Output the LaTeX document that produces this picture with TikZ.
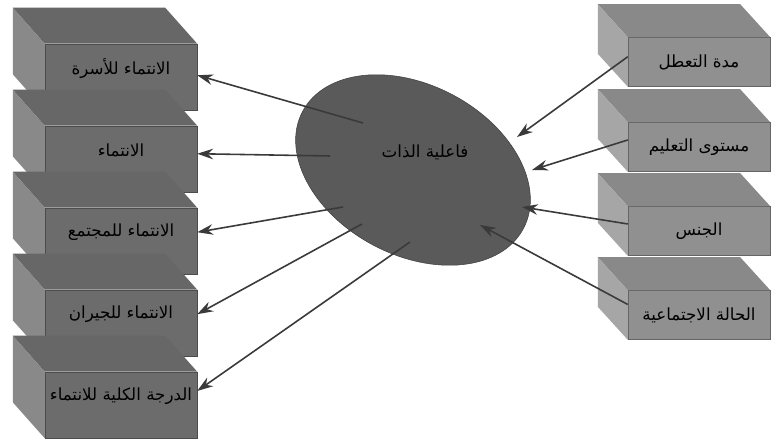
\documentclass[tikz,border=0pt]{standalone}
\usepackage{fontspec}
\newfontfamily\arabicfont[Script=Arabic]{DejaVu Sans}
\TeXXeTstate=1
\usetikzlibrary{arrows.meta,shapes.geometric,calc}
\definecolor{leftgray}{HTML}{6C6C6C}
\definecolor{rightgray}{HTML}{909090}
\definecolor{blobgray}{HTML}{5A5A5A}
\definecolor{linegray}{HTML}{3A3A3A}
\newcommand\artext[1]{\arabicfont\beginR #1\endR}

\begin{document}
\begin{tikzpicture}[
  x=0.02cm, y=-0.02cm,
  >=Stealth,
  leftfront/.style={fill=leftgray, draw=leftgray!70!black, line width=0.3pt, minimum width=3.04cm, minimum height=1.32cm, inner sep=0pt},
  rightfront/.style={fill=rightgray, draw=rightgray!70!black, line width=0.3pt, minimum width=2.84cm, minimum height=0.98cm, inner sep=0pt},
  boxtext/.style={font=\fontsize{9.5}{11}\selectfont, text=black, inner sep=1pt},
  blob/.style={ellipse, fill=blobgray, draw=blobgray!70!black, line width=0.3pt, minimum width=5cm, minimum height=3.4cm, rotate=-28},
  link/.style={draw=linegray, line width=0.9pt, -{Stealth[length=9pt,width=6pt]}}
]
\useasboundingbox[fill=white] (0,0) rectangle (774,439);

% left boxes
\foreach \name/\cy/\txt in {lb1/77/{الانتماء للأسرة}, lb2/159/{الانتماء}, lb3/241/{الانتماء للمجتمع}, lb4/323/{الانتماء للجيران}, lb5/405/{الدرجة الكلية للانتماء}} {
  \node[leftfront] (\name) at (121,\cy) {};
  \fill[leftgray!95!black] (\name.north west) -- (\name.north east) -- ++(-32,-36) -- ([shift={(-32,-36)}]\name.north west) -- cycle;
  \fill[leftgray!80!white] (\name.north west) -- (\name.south west) -- ++(-32,-36) -- ([shift={(-32,-36)}]\name.north west) -- cycle;
  \node[boxtext] (\name t) at ([yshift=5pt]\name.center) {\artext{\txt}};
}

% right boxes
\foreach \name/\cy/\txt in {rb1/62/{مدة التعطل}, rb2/147/{مستوى التعليم}, rb3/231/{الجنس}, rb4/315/{الحالة الاجتماعية}} {
  \node[rightfront] (\name) at (699,\cy) {};
  \fill[rightgray!95!black] (\name.north west) -- (\name.north east) -- ++(-30,-33) -- ([shift={(-30,-33)}]\name.north west) -- cycle;
  \fill[rightgray!80!white] (\name.north west) -- (\name.south west) -- ++(-30,-33) -- ([shift={(-30,-33)}]\name.north west) -- cycle;
  \node[boxtext] (\name t) at (\name.center) {\artext{\txt}};
}

% central ellipse
\node[blob] (self) at (413,170) {};
\node[boxtext] (selft) at (425,152) {\artext{فاعلية الذات}};

% line ends inside the ellipse
\coordinate (e1) at (363,123);
\coordinate (e2) at (330,156);
\coordinate (e3) at (343,207);
\coordinate (e4) at (362,224);
\coordinate (e5) at (410,242);
\coordinate (r1) at (517,137);
\coordinate (r2) at (532,170);
\coordinate (r3) at (522,207);
\coordinate (r4) at (480,225);

\draw[link] (e1) -- ([yshift=-4pt]lb1.east |- lb1t);
\draw[link] (e2) -- ([yshift=-2pt]lb2.east |- lb2t);
\draw[link] (e3) -- (lb3.east |- lb3t);
\draw[link] (e4) -- (lb4.east |- lb4t);
\draw[link] (e5) -- ([yshift=3pt]lb5.east |- lb5t);

\draw[link] ([yshift=3pt]rb1.west) -- (r1);
\draw[link] ([yshift=4pt]rb2.west) -- (r2);
\draw[link] ([yshift=4pt]rb3.west) -- (r3);
\draw[link] ([yshift=6pt]rb4.west) -- (r4);
\end{tikzpicture}
\end{document}
